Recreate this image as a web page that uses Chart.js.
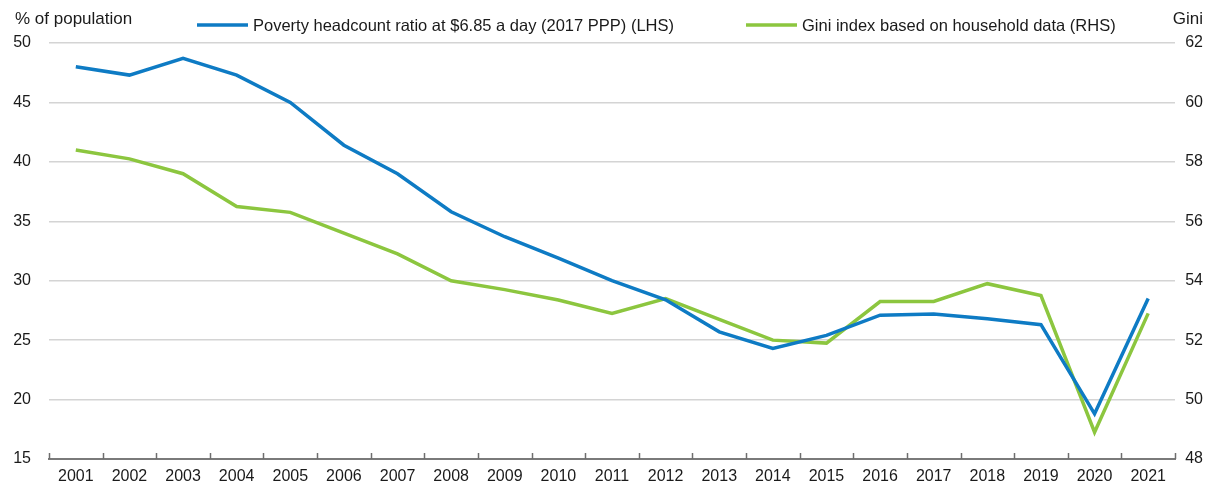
<!DOCTYPE html>
<html>
<head>
<meta charset="utf-8">
<script src="https://cdn.jsdelivr.net/npm/chart.js@4/dist/chart.umd.min.js"></script>
<style>
  html, body { margin: 0; padding: 0; background: #fff; }
  #wrap { width: 1218px; height: 491px; position: relative; }
</style>
</head>
<body>
<div id="wrap"><canvas id="chart" width="1218" height="491"></canvas></div>
<script>
// Años del eje X
const years = ['2001', '2002', '2003', '2004', '2005', '2006', '2007', '2008', '2009', '2010', '2011',
  '2012', '2013', '2014', '2015', '2016', '2017', '2018', '2019', '2020', '2021'];

// Serie LHS: % de población bajo $6.85/día
const povertyValues = [48.0, 47.3, 48.7, 47.3, 45.0, 41.4, 39.0, 35.8, 33.7, 31.9, 30.0,
  28.4, 25.7, 24.3, 25.4, 27.1, 27.2, 26.8, 26.3, 18.8, 28.5];

// Serie RHS: índice de Gini
const giniValues = [58.4, 58.1, 57.6, 56.5, 56.3, 55.6, 54.9, 54.0, 53.7, 53.35, 52.9,
  53.4, 52.7, 52.0, 51.9, 53.3, 53.3, 53.9, 53.5, 48.9, 52.9];

const povertyLabel = 'Poverty headcount ratio at $6.85 a day (2017 PPP) (LHS)';
const giniLabel = 'Gini index based on household data (RHS)';
const leftTitle = '% of population';
const rightTitle = 'Gini';

const BLUE = '#0e7bc4';
const GREEN = '#8cc63f';
const TEXT = '#1a1a1a';
const FONT = '"Liberation Sans", Arial, sans-serif';

// Leyenda, títulos de ejes y marcas del eje X dibujados a mano
const decorPlugin = {
  id: 'decor',
  afterDraw(chart) {
    const { ctx, chartArea, scales } = chart;
    ctx.save();

    // marcas del eje X (hacia dentro, en los límites de categoría)
    const xs = scales.x;
    const n = years.length;
    ctx.strokeStyle = '#6e6e6e';
    ctx.lineWidth = 1.5;
    for (let i = 0; i <= n; i++) {
      const x = Math.round(xs.left + (i * xs.width) / n) + 0.5;
      ctx.beginPath();
      ctx.moveTo(x, chartArea.bottom);
      ctx.lineTo(x, chartArea.bottom - 6);
      ctx.stroke();
    }

    // títulos de ejes
    ctx.fillStyle = TEXT;
    ctx.font = '17px ' + FONT;
    ctx.textBaseline = 'middle';
    ctx.textAlign = 'left';
    ctx.fillText(leftTitle, 15, 19);
    ctx.textAlign = 'right';
    ctx.fillText(rightTitle, 1203, 19);

    // leyenda
    const items = [
      { label: povertyLabel, color: BLUE, x: 197 },
      { label: giniLabel, color: GREEN, x: 746 },
    ];
    ctx.font = '16.5px ' + FONT;
    ctx.textAlign = 'left';
    items.forEach((it) => {
      ctx.strokeStyle = it.color;
      ctx.lineWidth = 3.5;
      ctx.beginPath();
      ctx.moveTo(it.x, 25);
      ctx.lineTo(it.x + 51, 25);
      ctx.stroke();
      ctx.fillStyle = TEXT;
      ctx.fillText(it.label, it.x + 56, 26);
    });

    ctx.restore();
  },
};

new Chart(document.getElementById('chart'), {
  type: 'line',
  data: {
    labels: years,
    datasets: [
      {
        label: povertyLabel,
        data: povertyValues,
        borderColor: BLUE,
        backgroundColor: BLUE,
        borderWidth: 3.5,
        pointRadius: 0,
        tension: 0,
        yAxisID: 'y',
      },
      {
        label: giniLabel,
        data: giniValues,
        borderColor: GREEN,
        backgroundColor: GREEN,
        borderWidth: 3.5,
        pointRadius: 0,
        tension: 0,
        yAxisID: 'y1',
      },
    ],
  },
  options: {
    responsive: false,
    animation: false,
    layout: { padding: { top: 43, bottom: 0, left: 0, right: 15 } },
    plugins: {
      legend: { display: false },
      tooltip: { enabled: false },
    },
    scales: {
      x: {
        offset: true,
        afterFit: (scale) => { scale.height = 32; },
        grid: { display: false, drawTicks: false },
        border: { display: true, color: '#7a7a7a', width: 2 },
        ticks: { color: TEXT, font: { size: 16, family: FONT }, padding: 8, maxRotation: 0, autoSkip: false },
      },
      y: {
        position: 'left',
        min: 15,
        max: 50,
        afterFit: (scale) => { scale.width = 49; },
        ticks: { stepSize: 5, color: TEXT, font: { size: 16, family: FONT }, padding: 18 },
        grid: { color: '#d4d4d4', lineWidth: 1.5, drawTicks: false },
        border: { display: false },
      },
      y1: {
        position: 'right',
        min: 48,
        max: 62,
        afterFit: (scale) => { scale.width = 28; },
        ticks: { stepSize: 2, color: TEXT, font: { size: 16, family: FONT }, crossAlign: 'far', padding: 10 },
        grid: { drawOnChartArea: false, drawTicks: false },
        border: { display: false },
      },
    },
  },
  plugins: [decorPlugin],
});
</script>
</body>
</html>
